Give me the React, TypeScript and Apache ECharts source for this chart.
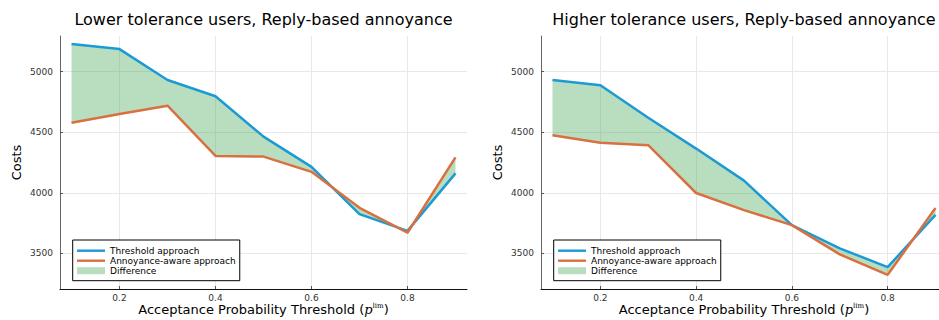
import React, { useEffect, useRef } from "react";
import * as echarts from "echarts";

const thresholds = [0.1, 0.2, 0.3, 0.4, 0.5, 0.6, 0.7, 0.8, 0.9];
const lowerThreshold = [5228, 5187, 4932, 4797, 4464, 4214, 3824, 3685, 4160];
const lowerAnnoyance = [4579, 4651, 4719, 4304, 4299, 4173, 3876, 3670, 4292];
const higherThreshold = [4932, 4888, 4620, 4365, 4100, 3733, 3541, 3385, 3818];
const higherAnnoyance = [4475, 4414, 4393, 3998, 3857, 3733, 3491, 3322, 3874];
const xTicks = [0.2, 0.4, 0.6, 0.8];
const yTicks = [3500, 4000, 4500, 5000];
const titles = [
  "Lower tolerance users, Reply-based annoyance",
  "Higher tolerance users, Reply-based annoyance",
];
const seriesNames = ["Threshold approach", "Annoyance-aware approach", "Difference"];

const BLUE = "#1b9ad6";
const ORANGE = "#d9703f";
const FILL = "rgba(62,164,78,0.36)";
const FONT = "DejaVu Sans";

export default function App() {
  const ref = useRef<HTMLDivElement>(null);
  useEffect(() => {
    const chart = echarts.init(ref.current!, null, { renderer: "svg" });
    const panels = [
      { thr: lowerThreshold, ann: lowerAnnoyance, left: 60, width: 407 },
      { thr: higherThreshold, ann: higherAnnoyance, left: 541, width: 406 },
    ];
    const grids = panels.map((p) => ({
      left: p.left,
      top: 36,
      width: p.width,
      height: 253,
      containLabel: false,
      outerBoundsMode: "none",
    }));
    const xAxes = panels.map((p, i) => ({
      type: "value",
      gridIndex: i,
      min: 0.076,
      max: 0.924,
      name: "{n|Acceptance Probability Threshold (}{p|p}{s|lim}{n|)}",
      nameLocation: "middle",
      nameGap: 13,
      nameMoveOverlap: false,
      nameTextStyle: {
        rich: {
          n: { fontSize: 13, fontFamily: FONT, color: "#000", lineHeight: 15 },
          p: { fontSize: 13, fontFamily: "DejaVu Serif", fontStyle: "italic", color: "#000", lineHeight: 15 },
          s: { fontSize: 7, fontFamily: "DejaVu Serif", color: "#000", lineHeight: 8, verticalAlign: "top" },
        },
      },
      axisLine: { show: true, onZero: false, lineStyle: { color: "#111", width: 1 } },
      axisTick: { show: true, inside: true, length: 3, customValues: xTicks, lineStyle: { color: "#555" } },
      axisLabel: {
        customValues: xTicks,
        margin: 4,
        fontSize: 9,
        fontFamily: FONT,
        color: "#333",
        formatter: (v: number) => v.toFixed(1),
      },
      splitLine: { show: true, lineStyle: { color: "#e8e8e8", width: 1 } },
    }));
    const yAxes = panels.map((p, i) => ({
      type: "value",
      gridIndex: i,
      min: 3205,
      max: 5295,
      name: "Costs",
      nameLocation: "middle",
      nameRotate: 90,
      nameGap: 37,
      nameMoveOverlap: false,
      nameTextStyle: { fontSize: 13, fontFamily: FONT, color: "#000" },
      axisLine: { show: true, onZero: false, lineStyle: { color: "#666", width: 1 } },
      axisTick: { show: true, inside: true, length: 3, customValues: yTicks, lineStyle: { color: "#555" } },
      axisLabel: {
        customValues: yTicks,
        margin: 7,
        fontSize: 9,
        fontFamily: FONT,
        color: "#333",
        formatter: (v: number) => String(Math.round(v)),
      },
      splitLine: { show: true, lineStyle: { color: "#e8e8e8", width: 1 } },
    }));
    const series: any[] = [];
    panels.forEach((p, i) => {
      series.push({
        type: "custom",
        name: seriesNames[2],
        xAxisIndex: i,
        yAxisIndex: i,
        z: 1,
        itemStyle: { color: FILL },
        data: [[thresholds[0], p.thr[0]]],
        renderItem: (_params: any, api: any) => {
          const pts: number[][] = [];
          for (let k = 0; k < thresholds.length; k++) pts.push(api.coord([thresholds[k], p.thr[k]]));
          for (let k = thresholds.length - 1; k >= 0; k--) pts.push(api.coord([thresholds[k], p.ann[k]]));
          return { type: "polygon", shape: { points: pts }, style: { fill: FILL } };
        },
      });
      series.push({
        type: "line",
        name: seriesNames[0],
        xAxisIndex: i,
        yAxisIndex: i,
        z: 2,
        symbol: "none",
        showSymbol: false,
        color: BLUE,
        lineStyle: { color: BLUE, width: 2.5 },
        data: thresholds.map((x, k) => [x, p.thr[k]]),
      });
      series.push({
        type: "line",
        name: seriesNames[1],
        xAxisIndex: i,
        yAxisIndex: i,
        z: 3,
        symbol: "none",
        showSymbol: false,
        color: ORANGE,
        lineStyle: { color: ORANGE, width: 2.5 },
        data: thresholds.map((x, k) => [x, p.ann[k]]),
      });
    });
    const legendData = [
      { name: seriesNames[0], icon: "path://M0,0M28,10M0,3.8L28,3.8L28,6.2L0,6.2Z", itemStyle: { color: BLUE } },
      { name: seriesNames[1], icon: "path://M0,0M28,10M0,3.8L28,3.8L28,6.2L0,6.2Z", itemStyle: { color: ORANGE } },
      { name: seriesNames[2], icon: "path://M0,0M28,10M0,1.5L28,1.5L28,8.5L0,8.5Z", itemStyle: { color: FILL } },
    ];
    const legends = panels.map((p) => ({
      orient: "vertical",
      left: p.left + 12.7,
      top: 240,
      itemWidth: 28,
      itemHeight: 10,
      itemGap: 0,
      itemTextGap: 4,
      padding: [5.7, 4, 5, 4.3],
      borderColor: "#000",
      borderWidth: 1,
      backgroundColor: "#fff",
      textStyle: { fontSize: 9, fontFamily: FONT, color: "#000" },
      data: legendData,
    }));
    const titleOpts = panels.map((p, i) => ({
      text: titles[i],
      left: p.left + p.width / 2,
      textAlign: "center",
      top: 11,
      padding: 0,
      textStyle: { fontSize: 16, fontWeight: "normal", fontFamily: FONT, color: "#000" },
    }));
    chart.setOption({
      animation: false,
      backgroundColor: "#fff",
      textStyle: { fontFamily: FONT },
      title: titleOpts,
      legend: legends,
      grid: grids,
      xAxis: xAxes,
      yAxis: yAxes,
      series,
    } as any);
    return () => chart.dispose();
  }, []);
  return (
    <div
      ref={ref}
      style={{ position: "absolute", left: 0, top: 0, width: 939, height: 320 }}
    />
  );
}
